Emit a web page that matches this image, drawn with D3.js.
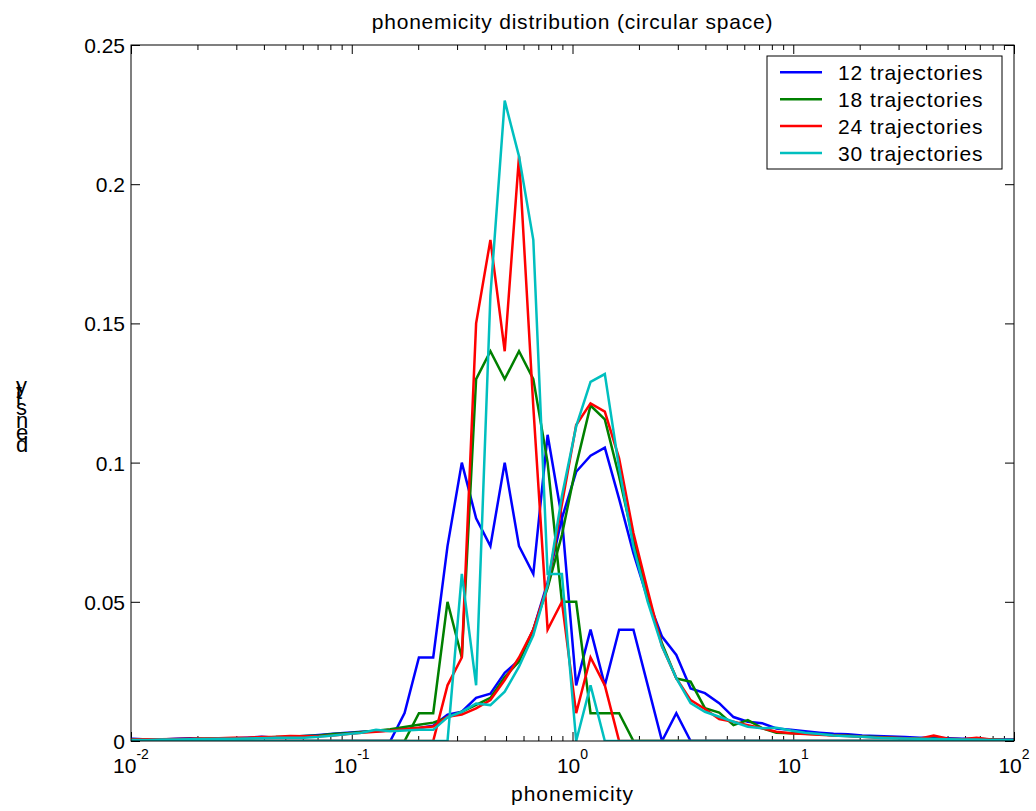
<!DOCTYPE html>
<html><head><meta charset="utf-8">
<script src="https://cdn.jsdelivr.net/npm/d3@7"></script>
<style>
body{margin:0;background:#fff;}
text{font-family:"Liberation Sans",Arial,Helvetica,sans-serif;fill:#000;}
</style>
</head><body>
<svg id="chart" width="1036" height="811"></svg>
<script>
// bin centres (phonemicity)
const phonemicity = [
 0.00879,0.0102,0.01184,0.01374,0.01596,0.01852,0.0215,0.02496,0.02898,0.03364,
 0.03905,0.04533,0.05263,0.06109,0.07092,0.08232,0.09556,0.1109,0.1288,0.1495,
 0.1735,0.2015,0.2339,0.2715,0.3152,0.3659,0.4247,0.4931,0.5724,0.6645,
 0.7713,0.8954,1.039,1.207,1.401,1.626,1.888,2.192,2.544,2.953,
 3.428,3.980,4.619,5.362,6.225,7.225,8.387,9.739,11.31,13.12,
 15.23,17.69,20.53,23.84,27.67,32.12,37.29,43.28,50.24,58.32,
 67.70,78.59,91.25,105.9];

// narrow (spiky) densities
const narrow12 = [
 0,0,0,0,0,0,0,0,0,0, 0,0,0,0,0,0,0,0,0,0,
 0.01,0.03,0.03,0.07,0.10,0.08,0.07,0.10,0.07,0.06,
 0.11,0.08,0.02,0.04,0.02,0.04,0.04,0.02,0,0.01,
 0,0,0,0,0,0,0,0,0,0, 0,0,0,0,0,0,0,0,0,0, 0,0,0,0];
const narrow18 = [
 0,0,0,0,0,0,0,0,0,0, 0,0,0,0,0,0,0,0,0,0, 0,
 0.01,0.01,0.05,0.03,0.13,0.14,0.13,0.14,0.13,0.10,0.05,0.05,0.01,0.01,0.01,
 0,0,0,0,0,0,0,0,0,0, 0,0,0,0,0,0,0,0,0,0, 0,0,0,0,0,0,0,0];
const narrow24 = [
 0,0,0,0,0,0,0,0,0,0, 0,0,0,0,0,0,0,0,0,0, 0,0,0,
 0.02,0.03,0.15,0.18,0.14,0.21,0.12,0.04,0.05,0.01,0.03,0.02,
 0,0,0,0,0,0,0,0,0,0, 0,0,0,0,0,0,0,0,0,0, 0,0,0,0,0,0,0,0,0];
const narrow30 = [
 0,0,0,0,0,0,0,0,0,0, 0,0,0,0,0,0,0,0,0,0, 0,0,0,0,
 0.06,0.02,0.16,0.23,0.21,0.18,0.06,0.06,0,0.02,
 0,0,0,0,0,0,0,0,0,0, 0,0,0,0,0,0,0,0,0,0, 0,0,0,0,0,0,0,0,0,0];

// broad (smooth) densities
const broad12 = [
 0.0008,0.0008,0.0005,0.0005,0.0008,0.0010,0.0007,0.0008,0.0010,0.0012,
 0.0015,0.0012,0.0015,0.0018,0.0022,0.0026,0.0030,0.0033,0.0035,0.0038,
 0.0042,0.0047,0.0055,0.0095,0.0105,0.0155,0.0170,0.0245,0.0290,0.0400,
 0.0570,0.0800,0.0967,0.1025,0.1054,0.0870,0.0675,0.0510,0.0375,0.0309,
 0.0189,0.0172,0.0136,0.0086,0.0069,0.0064,0.0045,0.0040,0.0035,0.0030,
 0.0026,0.0024,0.0020,0.0018,0.0016,0.0014,0.0012,0.0012,0.0010,0.0008,
 0.0008,0.0005,0.0005,0.0005];
const broad18 = [
 0.0005,0.0005,0.0005,0.0005,0.0006,0.0007,0.0008,0.0010,0.0009,0.0010,
 0.0012,0.0014,0.0015,0.0018,0.0020,0.0025,0.0028,0.0032,0.0037,0.0042,
 0.0050,0.0058,0.0066,0.0085,0.0105,0.0130,0.0155,0.0230,0.0285,0.0400,
 0.0550,0.0740,0.0990,0.1205,0.1155,0.0950,0.0720,0.0520,0.0350,0.0225,
 0.0213,0.0118,0.0102,0.0057,0.0075,0.0046,0.0030,0.0028,0.0026,0.0024,
 0.0021,0.0019,0.0016,0.0014,0.0012,0.0010,0.0009,0.0008,0.0007,0.0006,
 0.0005,0.0005,0.0004,0.0004];
const broad24 = [
 0.0005,0.0005,0.0006,0.0006,0.0007,0.0008,0.0009,0.0010,0.0012,0.0012,
 0.0014,0.0015,0.0018,0.0017,0.0017,0.0020,0.0025,0.0030,0.0033,0.0037,
 0.0042,0.0048,0.0052,0.0087,0.0095,0.0117,0.0147,0.0219,0.0300,0.0400,
 0.0560,0.0850,0.1135,0.1213,0.1183,0.1015,0.0747,0.0540,0.0340,0.0226,
 0.0147,0.0115,0.0079,0.0069,0.0057,0.0046,0.0033,0.0028,0.0025,0.0022,
 0.0020,0.0018,0.0015,0.0013,0.0012,0.0010,0.0008,0.0020,0.0008,0.0006,
 0.0012,0.0005,0.0004,0.0004];
const broad30 = [
 0.0004,0.0004,0.0004,0.0005,0.0005,0.0006,0.0007,0.0008,0.0008,0.0009,
 0.0010,0.0012,0.0012,0.0012,0.0015,0.0020,0.0025,0.0030,0.0040,0.0035,
 0.0038,0.0040,0.0040,0.0085,0.0105,0.0135,0.0129,0.0177,0.0267,0.0380,
 0.0560,0.0880,0.1130,0.1290,0.1318,0.0980,0.0698,0.0500,0.0340,0.0226,
 0.0136,0.0105,0.0087,0.0069,0.0051,0.0046,0.0048,0.0038,0.0030,0.0025,
 0.0020,0.0017,0.0015,0.0012,0.0010,0.0009,0.0008,0.0007,0.0006,0.0005,
 0.0005,0.0004,0.0004,0.0004];

const seriesNames = ["12 trajectories","18 trajectories","24 trajectories","30 trajectories"];
const seriesColors = ["#0000ff","#008000","#ff0000","#00bfbf"];
const narrowSeries = [narrow12, narrow18, narrow24, narrow30];
const broadSeries = [broad12, broad18, broad24, broad30];
const xTickExponents = [-2,-1,0,1,2];
const yTickValues = [0,0.05,0.1,0.15,0.2,0.25];
const yTickLabels = ["0","0.05","0.1","0.15","0.2","0.25"];
const titleText = "phonemicity distribution (circular space)";
const xLabelText = "phonemicity";
const yLabelText = "density";

const svg = d3.select("#chart");
const L = 131, R = 1014, T = 45, B = 741;
const x = d3.scaleLog().domain([0.01, 100]).range([L, R]);
const y = d3.scaleLinear().domain([0, 0.25]).range([B, T]);

svg.append("rect").attr("width",1036).attr("height",811).attr("fill","#fff");

svg.append("defs").append("clipPath").attr("id","plotclip")
  .append("rect").attr("x",L).attr("y",T).attr("width",R-L).attr("height",B-T);

const majorX = xTickExponents.map(e => Math.pow(10, e));
const minorX = [];
for (let e = -2; e < 2; e++) for (let m = 2; m <= 9; m++) minorX.push(m * Math.pow(10, e));

function styleAxis(g){
  g.select(".domain").remove();
  g.selectAll(".tick line").attr("stroke","#000").attr("stroke-width",1);
}

// bottom axis
svg.append("g").attr("transform",`translate(0,${B})`)
  .call(d3.axisBottom(x).tickValues(majorX).tickSize(-9).tickFormat(""))
  .call(styleAxis);
svg.append("g").attr("transform",`translate(0,${B})`)
  .call(d3.axisBottom(x).tickValues(minorX).tickSize(-5).tickFormat(""))
  .call(styleAxis);
// top axis
svg.append("g").attr("transform",`translate(0,${T})`)
  .call(d3.axisTop(x).tickValues(majorX).tickSize(-9).tickFormat(""))
  .call(styleAxis);
svg.append("g").attr("transform",`translate(0,${T})`)
  .call(d3.axisTop(x).tickValues(minorX).tickSize(-5).tickFormat(""))
  .call(styleAxis);
// left axis with labels
const yl = svg.append("g").attr("transform",`translate(${L},0)`)
  .call(d3.axisLeft(y).tickValues(yTickValues).tickSize(-9).tickPadding(6)
    .tickFormat((d,i) => yTickLabels[i]))
  .call(styleAxis);
yl.selectAll(".tick text").attr("font-size","21px").attr("font-family","Liberation Sans, Arial, sans-serif")
  .attr("fill","#000").attr("dy","0.36em");
// right axis
svg.append("g").attr("transform",`translate(${R},0)`)
  .call(d3.axisRight(y).tickValues(yTickValues).tickSize(-9).tickFormat(""))
  .call(styleAxis);

// x tick labels 10^e
const xl = svg.append("g");
xTickExponents.forEach(e => {
  const t = xl.append("text").attr("x", x(Math.pow(10,e))).attr("y", 773)
    .attr("text-anchor","middle").attr("font-size","21px");
  t.append("tspan").text("10");
  t.append("tspan").attr("dy",-14).attr("font-size","14px").text(String(e));
});

// lines
const line = d3.line().x((d,i) => x(phonemicity[i])).y(d => y(d));
const plot = svg.append("g").attr("clip-path","url(#plotclip)");
for (let s = 0; s < 4; s++) {
  plot.append("path").datum(narrowSeries[s]).attr("d", line)
    .attr("fill","none").attr("stroke",seriesColors[s]).attr("stroke-width",2.5)
    .attr("stroke-linejoin","miter");
  plot.append("path").datum(broadSeries[s]).attr("d", line)
    .attr("fill","none").attr("stroke",seriesColors[s]).attr("stroke-width",2.5)
    .attr("stroke-linejoin","miter");
}

// axes box
svg.append("rect").attr("x",L).attr("y",T).attr("width",R-L).attr("height",B-T)
  .attr("fill","none").attr("stroke","#000").attr("stroke-width",1);

// title and labels
svg.append("text").attr("x",(L+R)/2).attr("y",29).attr("text-anchor","middle")
  .attr("font-size","21px").attr("letter-spacing","0.8px").text(titleText);
svg.append("text").attr("x",(L+R)/2).attr("y",801).attr("text-anchor","middle")
  .attr("font-size","21px").attr("letter-spacing","1px").text(xLabelText);
// y label: rotated text whose glyphs are kept upright (stacked, as in the reference)
svg.append("text").attr("transform","translate(16,452) rotate(-90)")
  .attr("rotate","90").attr("font-size","22px").text(yLabelText);

// legend
const lg = svg.append("g");
lg.append("rect").attr("x",767).attr("y",56).attr("width",235).attr("height",113)
  .attr("fill","#fff").attr("stroke","#000").attr("stroke-width",1);
seriesNames.forEach((n, i) => {
  const yy = 72.3 + i*26.9;
  lg.append("line").attr("x1",780).attr("x2",822).attr("y1",yy).attr("y2",yy)
    .attr("stroke",seriesColors[i]).attr("stroke-width",2.5);
  lg.append("text").attr("x",838).attr("y",yy+7.5).attr("font-size","21px")
    .attr("letter-spacing","0.9px").text(n);
});
</script>
</body></html>
